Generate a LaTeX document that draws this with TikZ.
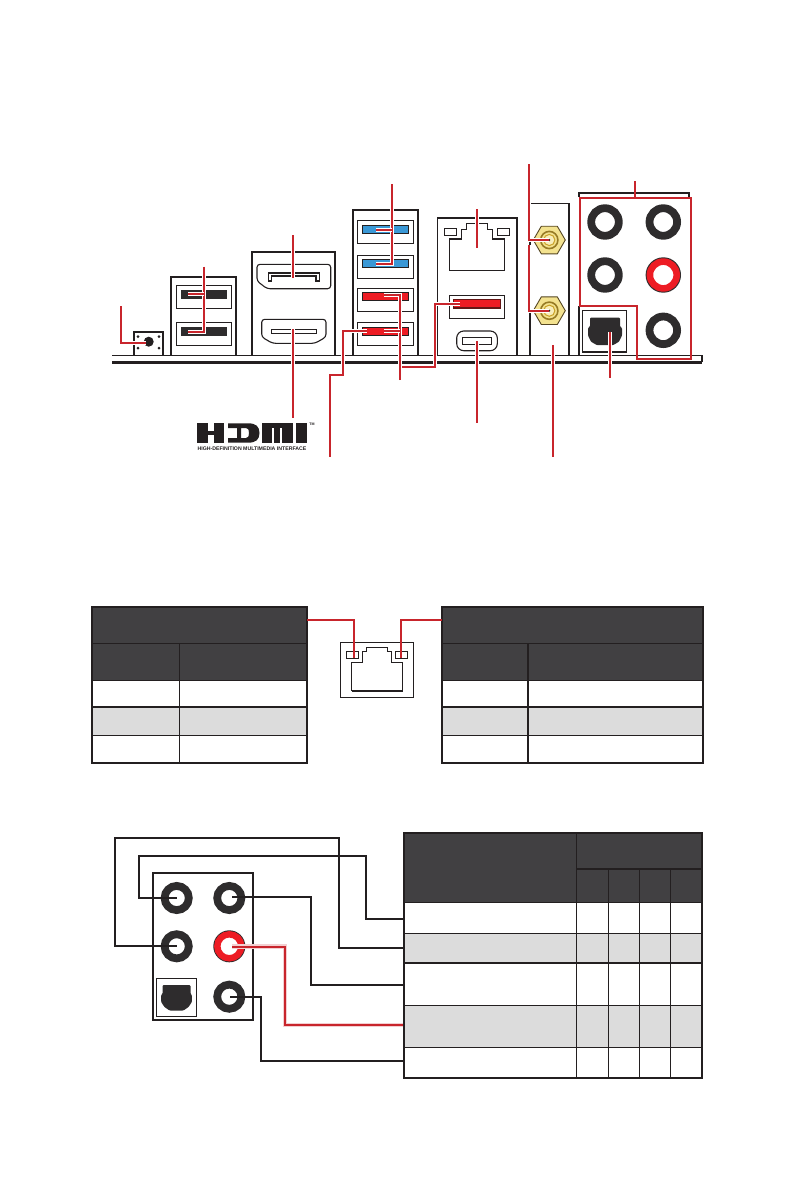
\documentclass[tikz,border=0pt]{standalone}
\usepackage{fontspec}
\setmainfont{Liberation Sans}
\definecolor{ink}{HTML}{231F20}
\definecolor{head}{HTML}{414042}
\definecolor{rowgrey}{HTML}{DCDCDC}
\definecolor{wire}{HTML}{C8252C}
\definecolor{portred}{HTML}{ED1C24}
\definecolor{portblue}{HTML}{3A98D6}
\definecolor{jackdark}{HTML}{2E2C2D}
\definecolor{gold}{HTML}{F3E28F}
\definecolor{golddark}{HTML}{C9A227}
\tikzset{
 x=1pt,y=-1pt,
 panel/.style={draw=ink,line width=2pt},
 port/.style={draw=ink,line width=1.3pt,fill=white},
 thin part/.style={draw=ink,line width=1.1pt},
 redwire/.style={draw=wire,line width=2pt,preaction={draw=white,line width=3.8pt}},
 blackwire/.style={draw=ink,line width=1.9pt},
 tablerule/.style={draw=ink,line width=1.1pt},
 tableframe/.style={draw=ink,line width=2.2pt},
 bigring/.style={draw=jackdark,line width=7.8pt,fill=white},
 smallring/.style={draw=jackdark,line width=7.8pt,fill=white},
}
\newcommand{\optshape}[2]{%
 \fill[jackdark,rounded corners=1pt,shift={(#1,#2)}]
  (-15,-14) -- (15,-14) -- (15,-5) -- (17,-4) -- (17,4) -- (14,10) -- (8,13.5) -- (-8,13.5) -- (-14,10) -- (-17,4) -- (-17,-4) -- (-15,-5) -- cycle;}
\newcommand{\smaoptshape}[2]{%
 \fill[jackdark,rounded corners=1pt,shift={(#1,#2)}]
  (-14,-13) -- (14,-13) -- (14,-4) -- (15.4,-3) -- (15.4,4) -- (12,9) -- (7,12.5) -- (-7,12.5) -- (-12,9) -- (-15.4,4) -- (-15.4,-3) -- (-14,-4) -- cycle;}
\newcommand{\hexconn}[3]{%
 \coordinate (#3) at (#1,#2);
 \filldraw[fill=gold,draw=ink!70!golddark,line width=.9pt,shift={(#1,#2)}]
   (-16,0) -- (-8,-13.8) -- (8,-13.8) -- (16,0) -- (8,13.8) -- (-8,13.8) -- cycle;
 \draw[golddark!70!ink,line width=1.6pt] (#3) circle (8.6pt);
 \draw[golddark,fill=gold!60!white,line width=1pt] (#3) circle (5.6pt);
 \fill[ink] (#3) circle (1.1pt);}
\begin{document}
\begin{tikzpicture}[x=1pt,y=-1pt]
\useasboundingbox (0,0) rectangle (794,1191);
% ---------- base plate
\draw[ink,line width=1.2pt] (112,355.3) -- (702,355.3);
\draw[ink,line width=2.2pt] (112,362.4) -- (702,362.4);
\draw[ink,line width=1.2pt] (702,355.3) -- (702,362.4);
% ---------- reset button
\draw[panel] (133.5,355) |- (162.5,331.7) -- (162.5,355);
\node[circle,fill=ink,minimum size=10pt,inner sep=0pt] (btn) at (148.7,341.7) {};
\foreach \px/\py in {138/336.5,159/336.5,138/348,159/348} \fill[ink] (\px,\py) circle (1.5pt);
\coordinate (btnEnd) at (146,342.7);
% ---------- USB 2 stack
\draw[panel] (171,355) |- (236.3,276.7) -- (236.3,355);
\foreach \py/\qy in {285.3/308.3,322.3/345.3}{\draw[port] (176.3,\py) rectangle (231.7,\qy);}
\fill[jackdark] (180.5,290) rectangle (227,299);
\fill[jackdark] (180.5,327.3) rectangle (227,335.8);
\coordinate (usbA) at (188,294.3); \coordinate (usbB) at (188,331.7);
% ---------- DP / HDMI
\draw[panel] (251.7,355) |- (335.3,251.7) -- (335.3,355);
\draw[thin part,rounded corners=3pt] (257,264.3) -- (330.7,264.3) -- (330.7,288.7) -- (267,288.7) -- (257,281) -- cycle;
\draw[ink,line width=1.2pt] (268.2,281) -- (268.2,273) -- (319.4,273) -- (319.4,281) -- (316,281) -- (316,276) -- (271.6,276) -- (271.6,281) -- cycle;
\draw[thin part,rounded corners=3pt] (261.7,319.3) -- (326,319.3) -- (326,337) -- (315,343.3) -- (272.5,343.3) -- (261.7,337) -- cycle;
\draw[ink,line width=1.1pt] (271.7,329.5) rectangle (316.7,333.2);
\coordinate (dp) at (292.7,278); \coordinate (hdmi) at (292.7,329);
% ---------- USB 3 stack
\draw[panel] (352.7,355) |- (418.3,210) -- (418.3,355);
\foreach \py/\qy in {220.7/243.7,255.7/278.3,288.3/311.7,322.3/345.3}{\draw[port] (357.3,\py) rectangle (413.3,\qy);}
\filldraw[fill=portblue,draw=ink,line width=.8pt] (362.2,225.5) rectangle (408.6,233.7);
\filldraw[fill=portblue,draw=ink,line width=.8pt] (362.2,259.3) rectangle (408.6,267.7);
\filldraw[fill=portred,draw=ink,line width=.8pt] (362.2,292.2) rectangle (408.6,300.6);
\filldraw[fill=portred,draw=ink,line width=.8pt] (362.2,327.3) rectangle (408.6,335.7);
\coordinate (blueA) at (376,230); \coordinate (blueB) at (376,264);
\coordinate (redA) at (384,295); \coordinate (redB) at (384,330.7);
\coordinate (redC) at (366.7,330.7);
% ---------- LAN + USB + USB-C
\draw[panel,line width=1.6pt] (437.3,355) |- (516.7,217.7) -- (516.7,355);
\draw[thin part] (449.3,270.3) -- (449.3,239) -- (461.7,239) -- (461.7,229.3) -- (466.7,229.3) -- (466.7,223.3) -- (487.3,223.3) -- (487.3,229.3) -- (492.7,229.3) -- (492.7,239) -- (504.7,239) -- (504.7,270.3) -- cycle;
\draw[thin part] (444.7,228.7) rectangle (456.7,235.7);
\draw[thin part] (497.3,228.7) rectangle (509.3,235.7);
\draw[port,line width=1.1pt] (449.3,295.3) rectangle (504.7,318.3);
\filldraw[fill=portred,draw=ink!70!red,line width=1.4pt] (453.4,299.6) rectangle (500.4,307.8);
\draw[thin part,rounded corners=7pt] (456.7,331) rectangle (497.3,350.7);
\draw[thin part] (462.3,337.3) rectangle (491.7,344.7);
\coordinate (lan) at (477,247.7); \coordinate (usbE) at (460,304.3); \coordinate (usbC) at (477,341);
% ---------- Wi-Fi
\draw[ink,line width=1.1pt] (530,203.3) -- (569.3,203.3);
\draw[ink,line width=1.6pt] (530,355) -- (530,203.3);
\draw[ink,line width=1.8pt] (569.3,203.3) -- (569.3,355);
\hexconn{549.3}{240}{wifiA}
\hexconn{549.3}{310.7}{wifiB}
\coordinate (wifiPlate) at (553,345);
% ---------- audio block
\draw[panel] (578.5,355) -- (578.5,306);
\draw[panel] (578.5,197) -- (578.5,193.3) -- (689.3,193.3) -- (689.3,197);
\foreach \n/\cx/\cy in {topA/605/222,topB/663.3/222,topC/605/275,topE/663.3/330.3}{
  \coordinate (\n) at (\cx,\cy);
  \draw[bigring] (\n) circle (13.8pt);}
\coordinate (topD) at (663.3,275);
\fill[jackdark] (topD) circle (17.7pt);
\draw[portred,line width=6.6pt,fill=white] (topD) circle (13.4pt);
\draw[ink,line width=1.1pt] (582.3,310.3) rectangle (626.7,352.3);
\draw[ink,line width=2.2pt] (582.3,352.3) -- (626.7,352.3);
\optshape{605}{331.7}
\coordinate (opt) at (610,332.3);
% ---------- red leaders, top
\coordinate (audioTick) at (634.7,198.3);
\draw[redwire] (121,306) |- (btnEnd);
\draw[redwire] (204,266.7) |- (usbB);
\draw[redwire] (204,294.3) -- (usbA);
\draw[redwire] (dp) -- (292.7,235);
\draw[redwire] (hdmi) -- (292.7,417.7);
\draw[redwire] (392,184) |- (blueB);
\draw[redwire] (392,230) -- (blueA);
\draw[redwire] (400,380) |- (redA);
\draw[redwire] (400,330.7) -- (redB);
\draw[redwire] (redC) -| (342.7,375) -| (330,457);
\draw[redwire] (usbE) -| (435,366.7) -- (401.7,366.7);
\draw[redwire] (lan) -- (477,209.3);
\draw[redwire] (usbC) -- (477,422.7);
\draw[redwire] (529,164) |- (wifiA);
\draw[redwire] (529,245) |- (wifiB);
\draw[redwire] (wifiPlate) -- (553,457);
\draw[redwire] (opt) -- (610,377.7);
\draw[draw=wire,line width=2pt] (580.3,198.3) -- (690.7,198.3) -- (690.7,359) -- (637,359) -- (637,305.7) -- (580.3,305.7) -- cycle;
\draw[draw=wire,line width=2pt] (audioTick) -- (634.7,181);
% ---------- HDMI logo
\fill[ink] (197,423.3) rectangle (208,442.7);
\fill[ink] (213.5,423.3) rectangle (224,442.7);
\fill[ink] (208,431) rectangle (213.5,435.2);
\fill[ink,even odd rule] (228,423.3) -- (248,423.3) .. controls (256,423.3) and (259.5,426.5) .. (259.5,433) .. controls (259.5,439.5) and (256,442.7) .. (248,442.7) -- (228,442.7) -- (228,438) -- (237,438) -- (237,428) -- (228,428) -- cycle
  (241,428) -- (241,438) -- (246,438) .. controls (248.5,438) and (249,436) .. (249,433) .. controls (249,430) and (248.5,428) .. (246,428) -- cycle;
\fill[ink] (262,423.3) rectangle (272,442.7);
\fill[ink] (274,423.3) rectangle (280,442.7);
\fill[ink] (282,423.3) rectangle (292.5,442.7);
\fill[ink] (262,423.3) rectangle (292.5,427.5);
\fill[ink] (295.5,423.3) rectangle (306.7,442.7);
\node[inner sep=0pt,text=ink,font=\fontsize{5.2}{6}\selectfont\bfseries] (logotext) at (252,449) {HIGH-DEFINITION MULTIMEDIA INTERFACE};
\node[inner sep=0pt,text=ink,font=\fontsize{3.6}{4}\selectfont\bfseries] (logotm) at (312,424) {TM};
% ---------- LAN table left
\fill[head] (91.7,606.7) rectangle (307.3,680.7);
\fill[rowgrey] (91.7,707) rectangle (307.3,735.3);
\draw[tablerule] (91.7,643.3) -- (307.3,643.3);
\draw[tablerule] (91.7,680.7) -- (307.3,680.7);
\draw[tablerule] (91.7,707) -- (307.3,707);
\draw[tablerule] (91.7,735.3) -- (307.3,735.3);
\draw[tablerule] (179.3,643.3) -- (179.3,763.3);
\draw[tableframe] (91.7,606.7) rectangle (307.3,763.3);
\coordinate (tabL) at (307.3,619.7);
% ---------- LAN table right
\fill[head] (441.7,606.7) rectangle (703.3,680.7);
\fill[rowgrey] (441.7,707) rectangle (703.3,735.3);
\draw[tablerule] (441.7,643.3) -- (703.3,643.3);
\draw[tablerule] (441.7,680.7) -- (703.3,680.7);
\draw[tablerule] (441.7,707) -- (703.3,707);
\draw[tablerule] (441.7,735.3) -- (703.3,735.3);
\draw[tablerule] (528,643.3) -- (528,763.3);
\draw[tableframe] (441.7,606.7) rectangle (703.3,763.3);
\coordinate (tabR) at (441.7,619.7);
% ---------- LAN icon
\draw[ink,line width=1.2pt] (340.3,642.3) rectangle (413.3,697.3);
\draw[ink,line width=1.2pt] (351.7,691) -- (351.7,662.3) -- (362.7,662.3) -- (362.7,651.7) -- (366.7,651.7) -- (366.7,647.3) -- (387.3,647.3) -- (387.3,651.7) -- (391.7,651.7) -- (391.7,662.3) -- (402.7,662.3) -- (402.7,691);
\draw[ink,line width=2pt] (351.7,691) -- (402.7,691);
\draw[ink,line width=1.5pt] (346.7,651.3) rectangle (358.3,658.3);
\draw[ink,line width=1.5pt] (395.7,651.3) rectangle (407.7,658.3);
\coordinate (ledL) at (354,658); \coordinate (ledR) at (400.7,658);
\draw[wire,line width=2pt] (tabL) -| (ledL);
\draw[wire,line width=2pt] (tabR) -| (ledR);
% ---------- audio table
\fill[head] (404,833.3) rectangle (702,902.3);
\fill[rowgrey] (404,933.3) rectangle (702,963);
\fill[rowgrey] (404,1005.3) rectangle (702,1047.3);
\foreach \ry in {902.3,933.3,963,1005.3,1047.3} \draw[tablerule] (404,\ry) -- (702,\ry);
\draw[tablerule] (576.7,833.3) -- (576.7,1077.7);
\draw[tablerule] (576.7,869) -- (702,869);
\foreach \rx in {608.3,639.3,670.7} \draw[tablerule] (\rx,869) -- (\rx,1077.7);
\draw[tableframe] (404,833.3) rectangle (702,1077.7);
\coordinate (rowA) at (403,919); \coordinate (rowB) at (403,947.7); \coordinate (rowC) at (403,985);
\coordinate (rowD) at (403,1025); \coordinate (rowE) at (403,1060.7);
% ---------- audio chart
\draw[ink,line width=2pt] (152.7,872.7) rectangle (253.3,1020);
\foreach \n/\cx/\cy in {jackA/176.7/898,jackB/229.3/898,jackC/176.7/946.3,jackE/229.3/996.7}{
  \coordinate (\n) at (\cx,\cy);
  \draw[smallring] (\n) circle (12.1pt);}
\coordinate (jackD) at (229.3,946.3);
\fill[jackdark] (jackD) circle (16pt);
\draw[portred,line width=6.4pt,fill=white] (jackD) circle (12pt);
\draw[ink,line width=1pt] (156.3,978.3) rectangle (196.7,1016.7);
\smaoptshape{176.5}{998}
\draw[blackwire] (jackC) -| (115,838.3) -| (339,947.7) -- (rowB);
\draw[blackwire] (jackA) -| (139,856) -| (366,919) -- (rowA);
\draw[blackwire] (232.3,897.3) -| (311,985) -- (rowC);
\draw[draw=wire,line width=2pt,preaction={draw=wire!22!white,line width=4.6pt}] (232,946.7) -| (285,1025) -- (rowD);
\draw[blackwire] (230,997) -| (261,1060.7) -- (rowE);
\end{tikzpicture}
\end{document}
